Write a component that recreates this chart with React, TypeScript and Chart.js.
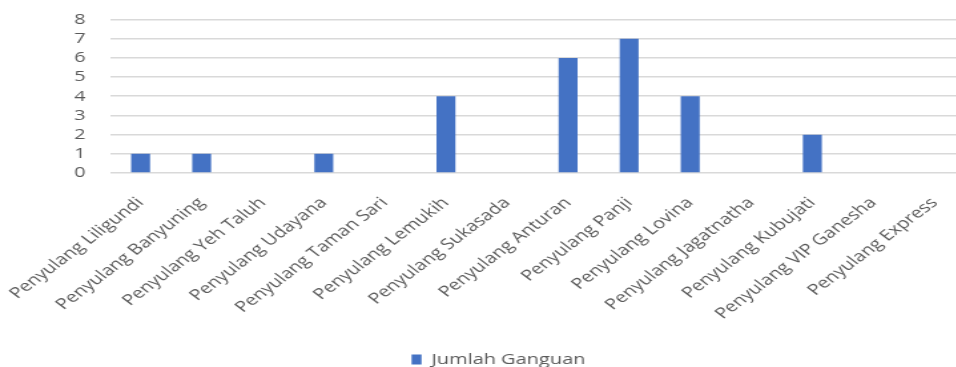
import React, { useEffect, useRef } from "react";
import { Chart, registerables } from "chart.js";

Chart.register(...registerables);

const categories = [
  "Penyulang Liligundi",
  "Penyulang Banyuning",
  "Penyulang Yeh Taluh",
  "Penyulang Udayana",
  "Penyulang Taman Sari",
  "Penyulang Lemukih",
  "Penyulang Sukasada",
  "Penyulang Anturan",
  "Penyulang Panji",
  "Penyulang Lovina",
  "Penyulang Jagatnatha",
  "Penyulang Kubujati",
  "Penyulang VIP Ganesha",
  "Penyulang Express",
];
const jumlahGangguan = [1, 1, 0, 1, 0, 4, 0, 6, 7, 4, 0, 2, 0, 0];
const seriesLabel = "Jumlah Ganguan";
const yMin = 0;
const yMax = 8;

// the reference is stretched horizontally; draw narrow and stretch with CSS
const STRETCH = 1.33;
const DISPLAY_W = 994;
const DISPLAY_H = 367;
const INTERNAL_W = Math.round(DISPLAY_W / STRETCH);

const legendShift = {
  id: "legendShift",
  afterLayout(chart: any) {
    const l = chart.legend;
    if (!l) return;
    const dx = 12;
    const dy = 10;
    l.left += dx;
    l.right += dx;
    l.top += dy;
    l.bottom += dy;
  },
};

export default function App() {
  const ref = useRef<HTMLCanvasElement | null>(null);
  useEffect(() => {
    document.body.style.overflow = "hidden";
    const ctx = ref.current!;
    const textColor = "#595959";
    const font = "'Open Sans', 'Noto Sans', sans-serif";
    const chart = new Chart(ctx, {
      type: "bar",
      data: {
        labels: categories,
        datasets: [
          {
            label: seriesLabel,
            data: jumlahGangguan,
            backgroundColor: "#4472C4",
            borderWidth: 0,
            barPercentage: 0.62,
            categoryPercentage: 0.5,
          },
        ],
      },
      plugins: [legendShift],
      options: {
        responsive: false,
        animation: false,
        devicePixelRatio: 1,
        layout: {
          padding: {
            top: 19.5,
            bottom: 0,
            left: 0,
            right: (DISPLAY_W - 965) / STRETCH,
          },
        },
        plugins: {
          tooltip: { enabled: false },
          legend: {
            position: "bottom",
            labels: {
              color: textColor,
              font: { family: font, size: 15 },
              boxWidth: 10 / STRETCH,
              boxHeight: 10,
              padding: 0,
            },
          },
        },
        scales: {
          x: {
            grid: { display: false, drawTicks: false },
            border: { display: false },
            ticks: {
              color: textColor,
              font: { family: font, size: 15 },
              minRotation: 45,
              maxRotation: 45,
              autoSkip: false,
              padding: 21,
            },
            afterFit: (s: any) => {
              s.height = 169;
              s.paddingLeft = 0;
              s.paddingRight = 0;
            },
          },
          y: {
            min: yMin,
            max: yMax,
            grid: { color: "#d9d9d9", lineWidth: 1.6, drawTicks: false },
            border: { display: false },
            ticks: {
              stepSize: 1,
              autoSkip: false,
              color: textColor,
              font: { family: font, size: 15 },
              padding: 18.5,
            },
            afterFit: (s: any) => {
              s.width = 110 / STRETCH;
              s.paddingTop = 0;
              s.paddingBottom = 0;
            },
          },
        },
      },
    });
    return () => chart.destroy();
  }, []);
  return (
    <div
      style={{
        position: "fixed",
        left: 0,
        top: 0,
        width: 956,
        height: 367,
        overflow: "hidden",
        background: "#fff",
      }}
    >
      <canvas
        ref={ref}
        width={INTERNAL_W}
        height={DISPLAY_H}
        style={{ display: "block", width: DISPLAY_W + "px", height: DISPLAY_H + "px" }}
      />
    </div>
  );
}
